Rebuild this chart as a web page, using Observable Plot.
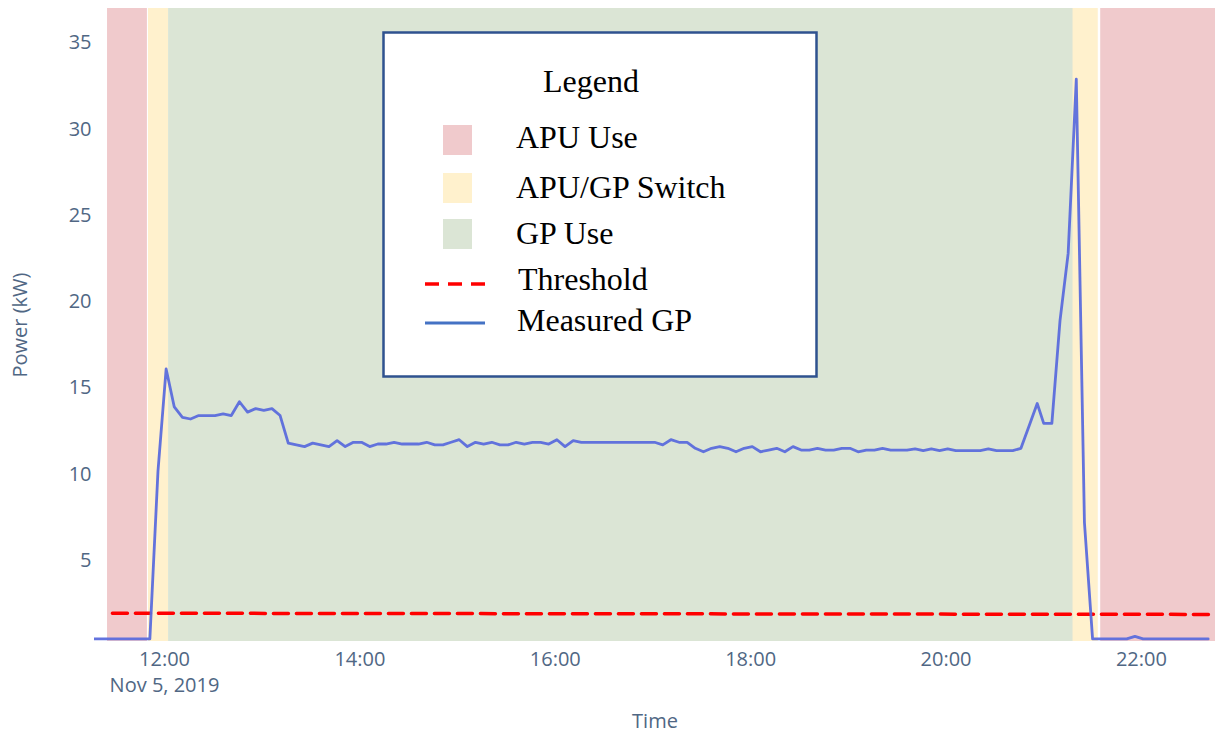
<!DOCTYPE html>
<html><head><meta charset="utf-8">
<script src="https://cdn.jsdelivr.net/npm/d3@7"></script>
<script src="https://cdn.jsdelivr.net/npm/@observablehq/plot@0.6"></script>
<style>
body{margin:0;background:#fff;}
#wrap{position:relative;width:1215px;height:734px;overflow:hidden;}
#wrap svg{display:block;}
#legend{position:absolute;left:0;top:0;pointer-events:none;}
</style></head><body><div id="wrap"></div>
<script>
// ---- data ----
const times = [
"11:16","11:21","11:26","11:31","11:36","11:41","11:46","11:51","11:56",
"12:01","12:06","12:11","12:16","12:21","12:26","12:31","12:36","12:41","12:46","12:51","12:56",
"13:01","13:06","13:11","13:16","13:21","13:26","13:31","13:36","13:41","13:46","13:51","13:56",
"14:01","14:06","14:11","14:16","14:21","14:26","14:31","14:36","14:41","14:46","14:51","14:56",
"15:01","15:06","15:11","15:16","15:21","15:26","15:31","15:36","15:41","15:46","15:51","15:56",
"16:01","16:06","16:11","16:16","16:21","16:26","16:31","16:36","16:41","16:46","16:51","16:56",
"17:01","17:06","17:11","17:16","17:21","17:26","17:31","17:36","17:41","17:46","17:51","17:56",
"18:01","18:06","18:11","18:16","18:21","18:26","18:31","18:36","18:41","18:46","18:51","18:56",
"19:01","19:06","19:11","19:16","19:21","19:26","19:31","19:36","19:41","19:46","19:51","19:56",
"20:01","20:06","20:11","20:16","20:21","20:26","20:31","20:36","20:41","20:46","20:51","20:56",
"21:00","21:05","21:10","21:15","21:20","21:25","21:30","21:36","21:41","21:46","21:51","21:56",
"22:01","22:06","22:11","22:16","22:21","22:26","22:31","22:36","22:41"
];
const power = [
0.45,0.45,0.45,0.45,0.45,0.45,0.45,0.45,10.2,
16.1,13.9,13.3,13.2,13.4,13.4,13.4,13.5,13.4,14.2,13.6,13.8,
13.7,13.8,13.4,11.8,11.7,11.6,11.8,11.7,11.6,11.95,11.6,11.85,
11.85,11.6,11.75,11.75,11.85,11.75,11.75,11.75,11.85,11.7,11.7,11.85,
12.0,11.6,11.85,11.75,11.85,11.7,11.7,11.85,11.75,11.85,11.85,11.75,
12.0,11.6,11.95,11.85,11.85,11.85,11.85,11.85,11.85,11.85,11.85,11.85,
11.85,11.7,12.0,11.85,11.85,11.5,11.3,11.5,11.6,11.5,11.3,11.5,
11.6,11.3,11.4,11.5,11.3,11.6,11.4,11.4,11.5,11.4,11.4,11.5,
11.5,11.3,11.4,11.4,11.5,11.4,11.4,11.4,11.47,11.37,11.47,11.37,
11.47,11.37,11.37,11.37,11.37,11.47,11.37,11.37,11.37,11.5,12.8,14.1,
12.95,12.95,18.9,22.8,32.9,7.2,0.45,0.45,0.45,0.45,0.45,0.6,
0.45,0.45,0.45,0.45,0.45,0.45,0.45,0.45,0.45
];
const phaseNames = ["APU Use","APU/GP Switch","GP Use","APU/GP Switch","APU Use"];
const phaseStart = ["11:25:00","11:50:10","12:02:30","21:18:00","21:35:00"];
const phaseEnd   = ["11:49:30","12:02:30","21:19:00","21:33:30","22:46:00"];
const thresholdTimes = ["11:28","22:46"];
const thresholdValues = [1.94, 1.87];
const xTickLabels = ["12:00","14:00","16:00","18:00","20:00","22:00"];
const dateLabel = "Nov 5, 2019";
const yTicks = [5,10,15,20,25,30,35];
const legendItems = ["APU Use","APU/GP Switch","GP Use","Threshold","Measured GP"];

// ---- build ----
const parse = s => { const [h,m,sec] = s.split(":").map(Number); return new Date(2019,10,5,h,m,sec||0); };
const series = times.map((t,i)=>({time: parse(t), power: power[i]}));
const phases = phaseNames.map((n,i)=>({name:n, start: parse(phaseStart[i]), end: parse(phaseEnd[i])}));
const threshold = thresholdTimes.map((t,i)=>({time: parse(t), value: thresholdValues[i]}));
const colors = {"APU Use":"#f0cacc","APU/GP Switch":"#fff1cd","GP Use":"#dbe5d5"};
const fmt = d3.timeFormat("%H:%M");

const chart = Plot.plot({
  width:1215, height:734, marginLeft:94, marginRight:0, marginTop:8, marginBottom:93,
  style:{fontFamily:"'Open Sans', sans-serif", fontSize:"20px", color:"#506784", background:"#fff", overflow:"visible"},
  x:{type:"time", domain:[parse("11:17"), parse("22:45:30")]},
  y:{domain:[0.3,37]},
  color:{type:"identity"},
  marks:[
    Plot.rect(phases,{x1:"start",x2:"end",fill:d=>colors[d.name]}),
    Plot.line(threshold,{x:"time",y:"value",stroke:"#ff0000",strokeWidth:3.5,strokeDasharray:"15,8",clip:true}),
    Plot.line(series,{x:"time",y:"power",stroke:"#5b6bdc",strokeWidth:2.8,strokeOpacity:0.95,clip:true}),
    Plot.axisY({ticks:yTicks, tickSize:0, tickPadding:3, label:"Power (kW)", labelAnchor:"center", labelOffset:82, labelArrow:"none"}),
    Plot.axisX({ticks:xTickLabels.map(parse), tickSize:0, tickPadding:6, lineHeight:1.3,
      tickFormat: d => d.getHours()===12 ? fmt(d)+"\n"+dateLabel : fmt(d),
      label:"Time", labelAnchor:"center", labelOffset:86, labelArrow:"none"})
  ]
});
const wrap = document.getElementById("wrap");
wrap.appendChild(chart);

// ---- legend overlay ----
const ns = "http://www.w3.org/2000/svg";
const lg = document.createElementNS(ns,"svg");
lg.setAttribute("id","legend"); lg.setAttribute("width",1215); lg.setAttribute("height",734);
const add = (tag, attrs, text) => { const e=document.createElementNS(ns,tag); for(const k in attrs) e.setAttribute(k,attrs[k]); if(text!=null) e.textContent=text; lg.appendChild(e); return e; };
add("rect",{x:383.5,y:32.5,width:433,height:344,fill:"#fff",stroke:"#2f528f","stroke-width":2.5});
const tf = {"font-family":"'Liberation Serif','Times New Roman',serif","font-size":32,fill:"#000"};
add("text",{...tf,x:543,y:92},"Legend");
const swY = [125,173,219];
[0,1,2].forEach(i=>{
  add("rect",{x:443,y:swY[i],width:29,height:30,fill:colors[legendItems[i]]});
});
add("text",{...tf,x:516,y:148},legendItems[0]);
add("text",{...tf,x:516,y:198},legendItems[1]);
add("text",{...tf,x:516,y:244},legendItems[2]);
add("line",{x1:425,x2:486,y1:284,y2:284,stroke:"#ff0000","stroke-width":3.5,"stroke-dasharray":"14,9"});
add("text",{...tf,x:518,y:290},legendItems[3]);
add("line",{x1:425,x2:485,y1:323,y2:323,stroke:"#4472c4","stroke-width":3.2});
add("text",{...tf,x:517,y:331},legendItems[4]);
wrap.appendChild(lg);
</script></body></html>
